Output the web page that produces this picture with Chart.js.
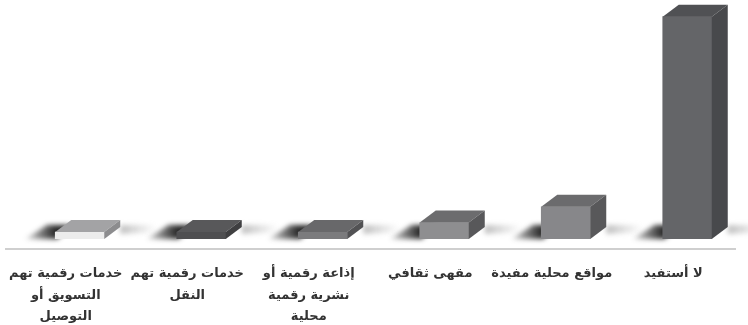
<!DOCTYPE html>
<html>
<head>
<meta charset="utf-8">
<script src="https://cdn.jsdelivr.net/npm/chart.js@4/dist/chart.umd.min.js"></script>
<style>
  body { margin: 0; background: #fff; }
  #wrap { width: 748px; height: 325px; }
</style>
</head>
<body>
<div id="wrap"><canvas id="bars"></canvas></div>
<script>
// categories, left to right as in the picture
const categories = [
  ["خدمات رقمية تهم", "التسويق أو", "التوصيل"],
  ["خدمات رقمية تهم", "النقل"],
  ["إذاعة رقمية أو", "نشرية رقمية", "محلية"],
  "مقهى ثقافي",
  "مواقع محلية مفيدة",
  "لا أستفيد"
];
const values = [2.4, 2.4, 2.4, 5.6, 11, 76];

// face colours
const frontColors = ["#ececec", "#4f4f51", "#7b7b7d", "#8e8e90", "#87878a", "#646568"];
const topColors   = ["#a3a3a5", "#58585a", "#68686a", "#6c6c6e", "#6b6b6d", "#505154"];
const sideColors  = ["#8c8c8e", "#3f3f41", "#525254", "#58585a", "#58585a", "#48494c"];

const DX = 16, DY = 12;

const cube = {
  id: "cube",
  beforeDatasetsDraw(chart) {
    const ctx = chart.ctx;
    const area = chart.chartArea;
    // floor line
    ctx.save();
    ctx.strokeStyle = "#cfcfcf";
    ctx.lineWidth = 2;
    ctx.beginPath();
    ctx.moveTo(5, area.bottom + 10);
    ctx.lineTo(736, area.bottom + 10);
    ctx.stroke();
    ctx.restore();
    // soft shadows on the floor
    chart.getDatasetMeta(0).data.forEach(bar => {
      const x0 = bar.x - bar.width / 2, x1 = bar.x + bar.width / 2, yb = bar.base;
      ctx.save();
      ctx.filter = "blur(2.5px)";
      let g = ctx.createLinearGradient(x0, 0, x0 - 34, 0);
      g.addColorStop(0, "rgba(30,30,30,0.95)");
      g.addColorStop(0.5, "rgba(30,30,30,0.5)");
      g.addColorStop(1, "rgba(30,30,30,0)");
      ctx.fillStyle = g;
      ctx.beginPath();
      ctx.moveTo(x0 + 2, yb);
      ctx.lineTo(x0 - 30, yb);
      ctx.lineTo(x0 - 8, yb - DY - 2);
      ctx.lineTo(x0 + DX, yb - DY - 2);
      ctx.closePath();
      ctx.fill();
      g = ctx.createLinearGradient(x1 + DX, 0, x1 + DX + 36, 0);
      g.addColorStop(0, "rgba(140,140,140,0.55)");
      g.addColorStop(1, "rgba(140,140,140,0)");
      ctx.fillStyle = g;
      ctx.beginPath();
      ctx.moveTo(x1 + DX, yb - 5);
      ctx.lineTo(x1 + DX + 36, yb - 7);
      ctx.lineTo(x1 + DX + 36, yb - DY - 2);
      ctx.lineTo(x1 + DX, yb - DY - 2);
      ctx.closePath();
      ctx.fill();
      ctx.restore();
    });
  },
  afterDatasetsDraw(chart) {
    const ctx = chart.ctx;
    chart.getDatasetMeta(0).data.forEach((bar, i) => {
      const x0 = bar.x - bar.width / 2, x1 = bar.x + bar.width / 2;
      const yt = bar.y, yb = bar.base;
      ctx.save();
      ctx.fillStyle = topColors[i];
      ctx.beginPath();
      ctx.moveTo(x0, yt);
      ctx.lineTo(x0 + DX, yt - DY);
      ctx.lineTo(x1 + DX, yt - DY);
      ctx.lineTo(x1, yt);
      ctx.closePath();
      ctx.fill();
      ctx.fillStyle = sideColors[i];
      ctx.beginPath();
      ctx.moveTo(x1, yt);
      ctx.lineTo(x1 + DX, yt - DY);
      ctx.lineTo(x1 + DX, yb - DY);
      ctx.lineTo(x1, yb);
      ctx.closePath();
      ctx.fill();
      ctx.restore();
    });
  }
};

new Chart(document.getElementById("bars"), {
  type: "bar",
  data: {
    labels: categories,
    datasets: [{
      data: values,
      backgroundColor: frontColors,
      borderWidth: 0,
      barThickness: 49
    }]
  },
  options: {
    responsive: true,
    maintainAspectRatio: false,
    animation: false,
    layout: { padding: { left: 19, right: 0, top: 5, bottom: 0 } },
    plugins: { legend: { display: false }, tooltip: { enabled: false } },
    scales: {
      x: {
        grid: { display: false },
        border: { display: false },
        afterFit(scale) { scale.height = 86; },
        ticks: {
          color: "#333333",
          font: { family: "DejaVu Sans", size: 13, weight: "bold", lineHeight: 1.65 },
          padding: 16,
          labelOffset: -14,
          maxRotation: 0,
          autoSkip: false
        }
      },
      y: { display: false, min: 0, max: 80 }
    }
  },
  plugins: [cube]
});
</script>
</body>
</html>
